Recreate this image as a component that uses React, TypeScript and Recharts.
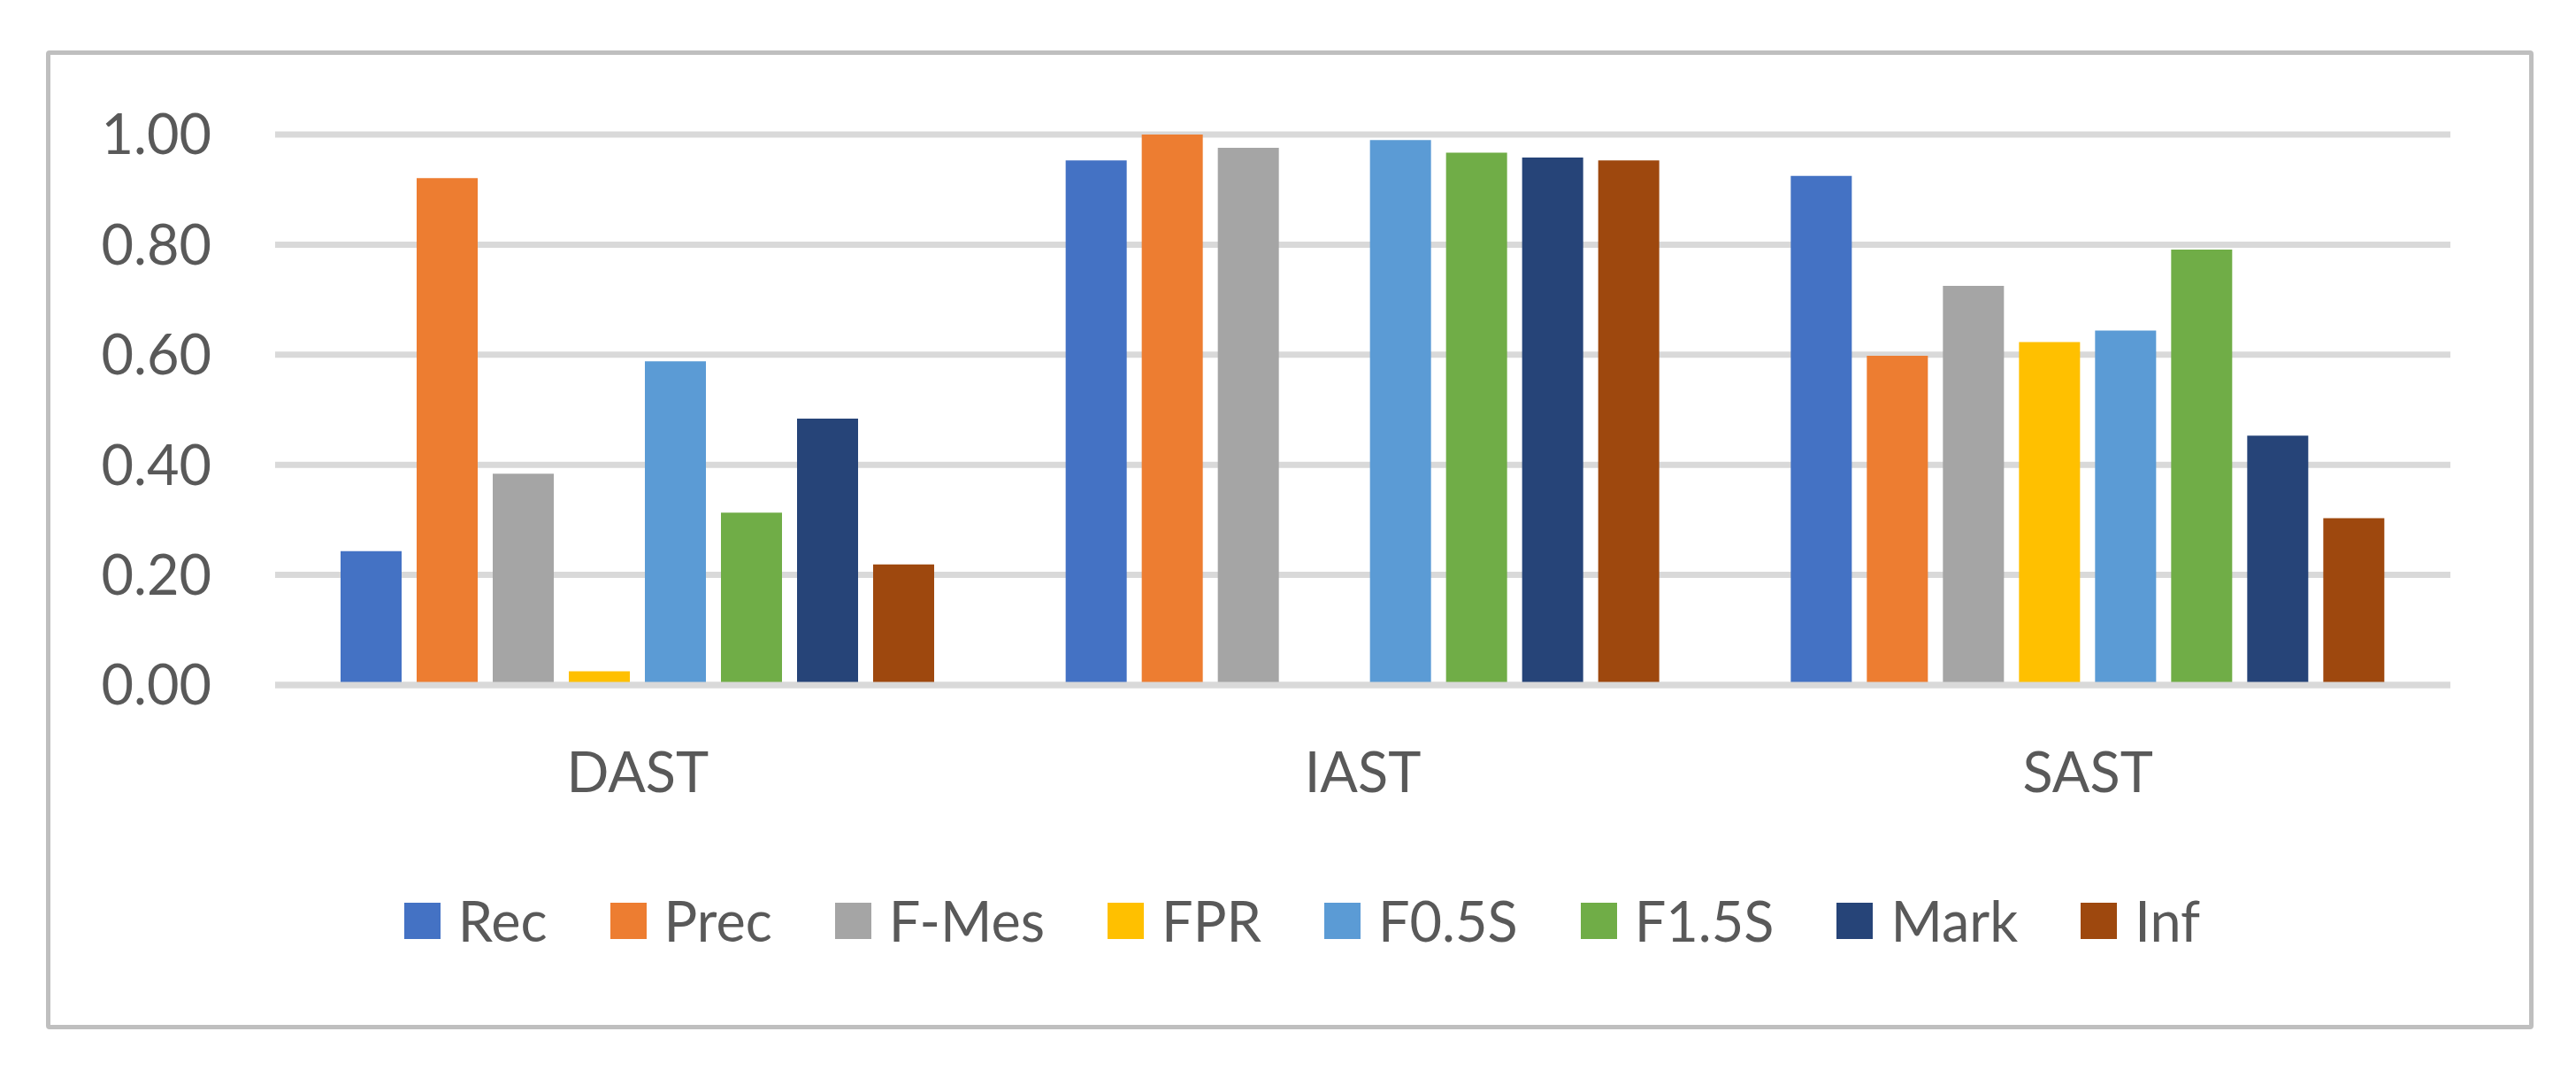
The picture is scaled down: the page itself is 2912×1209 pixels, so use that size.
/**
 * Grouped bar chart: detection metrics for DAST / IAST / SAST.
 */
import { BarChart, Bar, XAxis, YAxis, CartesianGrid, Legend } from 'recharts';

const CATEGORIES = ['DAST', 'IAST', 'SAST'];

const REC = [0.243, 0.953, 0.925];
const PREC = [0.921, 1.0, 0.598];
const F_MES = [0.384, 0.976, 0.725];
const FPR = [0.025, 0, 0.623];
const F05S = [0.588, 0.99, 0.644];
const F15S = [0.313, 0.967, 0.791];
const MARK = [0.484, 0.958, 0.453];
const INF = [0.219, 0.953, 0.303];

const Y_TICKS = [0, 0.2, 0.4, 0.6, 0.8, 1.0];

const SERIES = [
  { key: 'Rec', values: REC, color: '#4472C4' },
  { key: 'Prec', values: PREC, color: '#ED7D31' },
  { key: 'F-Mes', values: F_MES, color: '#A5A5A5' },
  { key: 'FPR', values: FPR, color: '#FFC000' },
  { key: 'F0.5S', values: F05S, color: '#5B9BD5' },
  { key: 'F1.5S', values: F15S, color: '#70AD47' },
  { key: 'Mark', values: MARK, color: '#264478' },
  { key: 'Inf', values: INF, color: '#9E480E' },
];

const data = CATEGORIES.map((name, i) => {
  const row: Record<string, string | number> = { name };
  SERIES.forEach((s) => {
    row[s.key] = s.values[i];
  });
  return row;
});

const FONT = 'Lato, "Open Sans", sans-serif';
const TEXT = '#595959';

// keep legend in series order (recharts sorts by name otherwise)
function renderLegend(props: any) {
  const order = SERIES.map((s) => s.key);
  const items = [...(props.payload || [])].sort(
    (a: any, b: any) => order.indexOf(a.value) - order.indexOf(b.value)
  );
  return (
    <div
      style={{
        height: 62,
        display: 'flex',
        justifyContent: 'center',
        alignItems: 'center',
        paddingLeft: 32,
        fontFamily: FONT,
        fontSize: 63,
        color: TEXT,
      }}
    >
      {items.map((it: any, idx: number) => (
        <div
          key={it.value}
          style={{
            display: 'flex',
            alignItems: 'center',
            marginRight: idx < items.length - 1 ? 71 : 0,
          }}
        >
          <div style={{ width: 41, height: 41, background: it.color, marginRight: 20 }} />
          <span style={{ lineHeight: '62px' }}>{it.value}</span>
        </div>
      ))}
    </div>
  );
}

export default function App() {
  return (
    <div
      style={{
        position: 'absolute',
        left: 0,
        top: 0,
        width: 2912,
        height: 1209,
        background: '#fff',
      }}
    >
      <div
        style={{
          position: 'absolute',
          left: 52,
          top: 57,
          width: 2812,
          height: 1106,
          boxSizing: 'border-box',
          border: '5px solid #BFBFBF',
          borderRadius: 4,
        }}
      />
      <div style={{ position: 'absolute', left: 0, top: 0 }}>
        <BarChart
          width={2912}
          height={1209}
          data={data}
          margin={{ top: 152, right: 142, left: 0, bottom: 273 }}
          barCategoryGap={74}
          barGap={17}
        >
          <CartesianGrid vertical={false} stroke="#D9D9D9" strokeWidth={7} />
          <XAxis
            dataKey="name"
            height={100}
            axisLine={{ stroke: '#D9D9D9', strokeWidth: 7 }}
            tickLine={false}
            tickSize={0}
            tickMargin={76}
            tick={{ fill: TEXT, fontSize: 63, fontFamily: FONT }}
          />
          <YAxis
            width={311}
            domain={[0, 1]}
            ticks={Y_TICKS}
            axisLine={false}
            tickLine={false}
            tickSize={0}
            tickMargin={72}
            tickFormatter={(v: number) => v.toFixed(2)}
            tick={{ fill: TEXT, fontSize: 63, fontFamily: FONT }}
          />
          <Legend
            content={renderLegend}
            wrapperStyle={{ top: 1009, left: 0, width: 2912, bottom: 'auto' }}
          />
          {SERIES.map((s) => (
            <Bar key={s.key} dataKey={s.key} fill={s.color} isAnimationActive={false} />
          ))}
        </BarChart>
      </div>
    </div>
  );
}
